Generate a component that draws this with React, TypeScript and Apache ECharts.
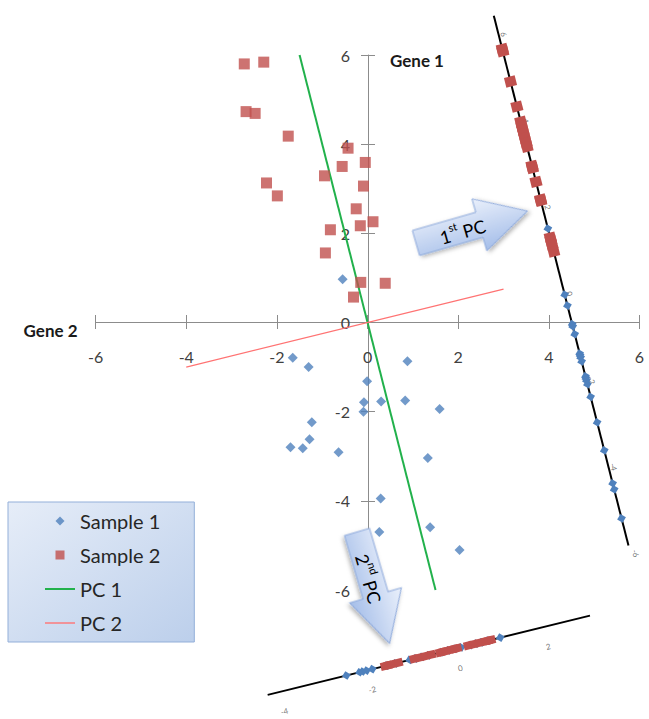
import React, { useEffect, useRef } from 'react';
import * as echarts from 'echarts';

// ---- Data ----
const sample1: number[][] = [
  [-0.55, 0.97], [-1.65, -0.79], [-1.3, -1.0], [0.88, -0.87], [-0.01, -1.32],
  [-0.08, -1.79], [0.3, -1.77], [0.83, -1.75], [1.59, -1.94], [-0.09, -2.0],
  [-1.23, -2.24], [-1.28, -2.62], [-1.7, -2.8], [-1.43, -2.82], [-0.64, -2.91],
  [1.33, -3.04], [0.29, -3.95], [1.38, -4.59], [0.26, -4.7], [2.03, -5.1],
];
const sample2: number[][] = [
  [-2.72, 5.8], [-2.29, 5.84], [-2.68, 4.73], [-2.48, 4.69], [-1.75, 4.18],
  [-0.43, 3.91], [-0.05, 3.59], [-0.56, 3.5], [-0.95, 3.29], [-2.23, 3.13],
  [-1.99, 2.84], [-0.09, 3.06], [-0.25, 2.55], [0.12, 2.26], [-0.16, 2.17],
  [-0.82, 2.08], [-0.93, 1.56], [-0.15, 0.9], [0.39, 0.88], [-0.31, 0.57],
];
const pc1Line: number[][] = [[-1.5, 6], [1.5, -6]];
const pc2Line: number[][] = [[-4, -1], [3, 0.75]];

// projected scores as drawn on the two PC axes
const pc1Sample1Scores = [1.18, -0.35, -0.6, -1.03, -1.08, -1.26, -1.71, -1.75, -1.8, -1.89,
  -2.24, -2.28, -2.33, -2.42, -2.71, -3.3, -3.95, -4.71, -4.85, -5.52];
const pc1Sample2Scores = [5.33, 5.28, 4.58, 4.0, 3.65, 3.55, 3.46, 3.38, 3.28, 3.17,
  3.07, 2.63, 2.58, 2.26, 1.85, 1.82, 0.97, 0.9, 0.81, 0.65];
const pc2Sample1Scores = [-2.37, -2.07, -2.0, -1.91, -1.78, -1.45, -1.25, -0.93, -0.8, -0.65,
  -0.5, -0.2, -0.05, 0.1, 0.24, 0.45, 0.58, 0.7, 0.85, 1.13];
const pc2Sample2Scores = [-1.5, -1.42, -1.34, -1.18, -0.84, -0.71, -0.57, -0.43, -0.25, -0.18,
  -0.11, 0.02, 0.09, 0.16, 0.39, 0.52, 0.66, 0.8, 0.86, 0.93];

const pc1AxisTicks = [6, 4, 2, 0, -2, -4, -6];
const pc2AxisTicks = [-4, -2, 0, 2];
const pc1AxisRange = [-6.15, 6.1];
const pc2AxisRange = [-4.16, 3.17];

// ---- Geometry of the projection axes (layout, data units) ----
const norm = (v: number[]) => { const l = Math.hypot(v[0], v[1]); return [v[0] / l, v[1] / l]; };
const PC1_DIR = norm([-1, 4]);
const PC2_DIR = norm([4, 1]);
const PC1_AXIS_ORIGIN = [4.265, 0.963];
const PC2_AXIS_ORIGIN = [1.832, -7.343];
const along = (o: number[], d: number[], t: number) => [o[0] + d[0] * t, o[1] + d[1] * t];

const BLUE = '#4f81bd';
const RED = '#c0504d';
const GREEN = '#22b14c';
const PINK = '#ff7373';
const AXIS_GREY = '#8c8c8c';
const FONT = 'Lato, "Open Sans", sans-serif';

// grid placement (px)
const GRID = { left: 95.6, right: 9.5, top: 55, bottom: 129 };
const ZERO_X_PX = 368;
const ZERO_Y_PX = 322;

function arrow(x: number, y: number, rotation: number, text: string) {
  const fill = new echarts.graphic.LinearGradient(0, 0, 0, 1, [
    { offset: 0, color: '#eaf0fb' },
    { offset: 1, color: '#a5bee9' },
  ]);
  return {
    type: 'group', x, y, rotation, z: 50,
    children: [
      {
        type: 'polygon', z: 50,
        shape: { points: [[0, -13], [66, -13], [66, -27], [116, 0], [66, 27], [66, 13], [0, 13]] },
        style: {
          fill, stroke: '#8eaadc', lineWidth: 1,
          shadowBlur: 4, shadowOffsetX: 2, shadowOffsetY: 2, shadowColor: 'rgba(0,0,0,0.3)',
        },
      },
      {
        type: 'text', z: 51, x: 48, y: 0,
        style: {
          text, align: 'center', verticalAlign: 'middle',
          rich: {
            a: { fontSize: 18, fontFamily: FONT, color: '#1a1a1a', lineHeight: 22, verticalAlign: 'bottom' },
            s: { fontSize: 11, fontFamily: FONT, color: '#1a1a1a', lineHeight: 22, verticalAlign: 'top' },
          },
        },
      },
    ],
  };
}

export default function App() {
  const ref = useRef<HTMLDivElement>(null);
  useEffect(() => {
    if (!ref.current) return;
    const chart = echarts.init(ref.current, null, { renderer: 'svg' });

    const projAxisLine = (o: number[], d: number[], r: number[]) => ({
      type: 'line', silent: true, clip: false, symbol: 'none', z: 3,
      data: [along(o, d, r[0]), along(o, d, r[1])],
      lineStyle: { color: '#000', width: 2 },
    });
    const projPoints = (o: number[], d: number[], scores: number[], symbol: string, size: any, color: string, z: number) => ({
      type: 'scatter', silent: true, clip: false, symbol, symbolSize: size, symbolRotate: 14, z,
      data: scores.map((t) => along(o, d, t)),
      itemStyle: { color, opacity: 1 },
    });
    const projTicks = (o: number[], d: number[], ticks: number[], offset: number[], rotate: number) => ({
      type: 'scatter', silent: true, clip: false, symbolSize: 0, z: 3,
      data: ticks.map((t) => [...along(o, d, t), t]),
      label: {
        show: true, position: 'inside', offset, rotate,
        fontSize: 8, color: '#555', fontFamily: FONT,
        formatter: (p: any) => String(p.value[2]),
      },
    });

    const H = 719;
    const xOffset = -((H - GRID.bottom) - ZERO_Y_PX);
    const yOffset = -(ZERO_X_PX - GRID.left);

    const baseX = { type: 'value', min: -6, max: 6, interval: 2, position: 'bottom', offset: xOffset, splitLine: { show: false } };
    const baseY = { type: 'value', min: -6, max: 6, interval: 2, position: 'left', offset: yOffset, splitLine: { show: false } };

    chart.setOption({
      animation: false,
      backgroundColor: '#fff',
      grid: GRID,
      xAxis: [
        {
          ...baseX,
          name: 'Gene 2', nameLocation: 'start', nameGap: 18,
          nameTextStyle: { fontWeight: 'bold', fontSize: 17, color: '#1a1a1a', fontFamily: FONT, verticalAlign: 'top', padding: [0, 0, 0, 0] },
          axisLine: { onZero: false, lineStyle: { color: AXIS_GREY } },
          axisTick: { show: true, length: 7, lineStyle: { color: AXIS_GREY } },
          axisLabel: { margin: 26, fontSize: 16, color: '#404040', fontFamily: FONT },
        },
        {
          ...baseX,
          axisLine: { show: false, onZero: false },
          axisTick: { show: true, inside: true, length: 7, lineStyle: { color: AXIS_GREY } },
          axisLabel: { show: false },
        },
      ],
      yAxis: [
        {
          ...baseY,
          name: 'Gene 1', nameLocation: 'end', nameGap: -14,
          nameTextStyle: { fontWeight: 'bold', fontSize: 17, color: '#1a1a1a', fontFamily: FONT, align: 'left', padding: [0, 0, 0, 22] },
          axisLine: { onZero: false, lineStyle: { color: AXIS_GREY } },
          axisTick: { show: true, length: 7, lineStyle: { color: AXIS_GREY } },
          axisLabel: { margin: 18, fontSize: 16, color: '#404040', fontFamily: FONT },
        },
        {
          ...baseY,
          axisLine: { show: false, onZero: false },
          axisTick: { show: true, inside: true, length: 7, lineStyle: { color: AXIS_GREY } },
          axisLabel: { show: false },
        },
      ],
      legend: {
        data: [
          { name: 'Sample 1', icon: 'path://M5,0L10,5L5,10L0,5Z' },
          { name: 'Sample 2', icon: 'path://M0,0H10V10H0Z' },
          { name: 'PC 1', icon: 'path://M0,0H30V2H0Z' },
          { name: 'PC 2', icon: 'path://M0,0H30V1.4H0Z' },
        ],
        symbolKeepAspect: true,
        orient: 'vertical', left: 8, top: 502,
        padding: [9, 34, 9, 37],
        itemWidth: 30, itemHeight: 9, itemGap: 14,
        backgroundColor: new echarts.graphic.LinearGradient(0, 0, 1, 1, [
          { offset: 0, color: '#e6edf8' },
          { offset: 1, color: '#bccfeb' },
        ]),
        borderColor: '#93afd9', borderWidth: 1,
        textStyle: { fontSize: 20, color: '#262626', fontFamily: FONT },
      },
      graphic: [
        arrow(416, 243, 0.28, '{a|1}{s|st}{a| PC}'),
        arrow(357, 532, -1.286, '{a|2}{s|nd}{a| PC}'),
      ],
      series: [
        {
          name: 'PC 1', type: 'line', data: pc1Line, symbol: 'none', z: 2,
          lineStyle: { color: GREEN, width: 2 }, itemStyle: { color: GREEN },
        },
        {
          name: 'PC 2', type: 'line', data: pc2Line, symbol: 'none', z: 2,
          lineStyle: { color: PINK, width: 1.2 }, itemStyle: { color: PINK },
        },
        {
          name: 'Sample 1', type: 'scatter', data: sample1, symbol: 'diamond', symbolSize: 10,
          itemStyle: { color: BLUE }, z: 4,
        },
        {
          name: 'Sample 2', type: 'scatter', data: sample2, symbol: 'rect', symbolSize: 11,
          itemStyle: { color: RED }, z: 4,
        },
        projAxisLine(PC1_AXIS_ORIGIN, PC1_DIR, pc1AxisRange),
        projPoints(PC1_AXIS_ORIGIN, PC1_DIR, pc1Sample1Scores, 'diamond', 9, BLUE, 5),
        projPoints(PC1_AXIS_ORIGIN, PC1_DIR, pc1Sample2Scores, 'rect', [11, 10], RED, 6),
        projTicks(PC1_AXIS_ORIGIN, PC1_DIR, pc1AxisTicks, [16, -5], -76),
        projAxisLine(PC2_AXIS_ORIGIN, PC2_DIR, pc2AxisRange),
        projPoints(PC2_AXIS_ORIGIN, PC2_DIR, pc2Sample1Scores, 'diamond', 9, BLUE, 5),
        projPoints(PC2_AXIS_ORIGIN, PC2_DIR, pc2Sample2Scores, 'rect', [8, 8], RED, 6),
        projTicks(PC2_AXIS_ORIGIN, PC2_DIR, pc2AxisTicks, [5, 20], 14),
      ],
    });
    return () => chart.dispose();
  }, []);
  return (
    <div
      ref={ref}
      style={{ position: 'absolute', left: 0, top: 0, width: 649, height: 719, background: '#fff' }}
    />
  );
}
